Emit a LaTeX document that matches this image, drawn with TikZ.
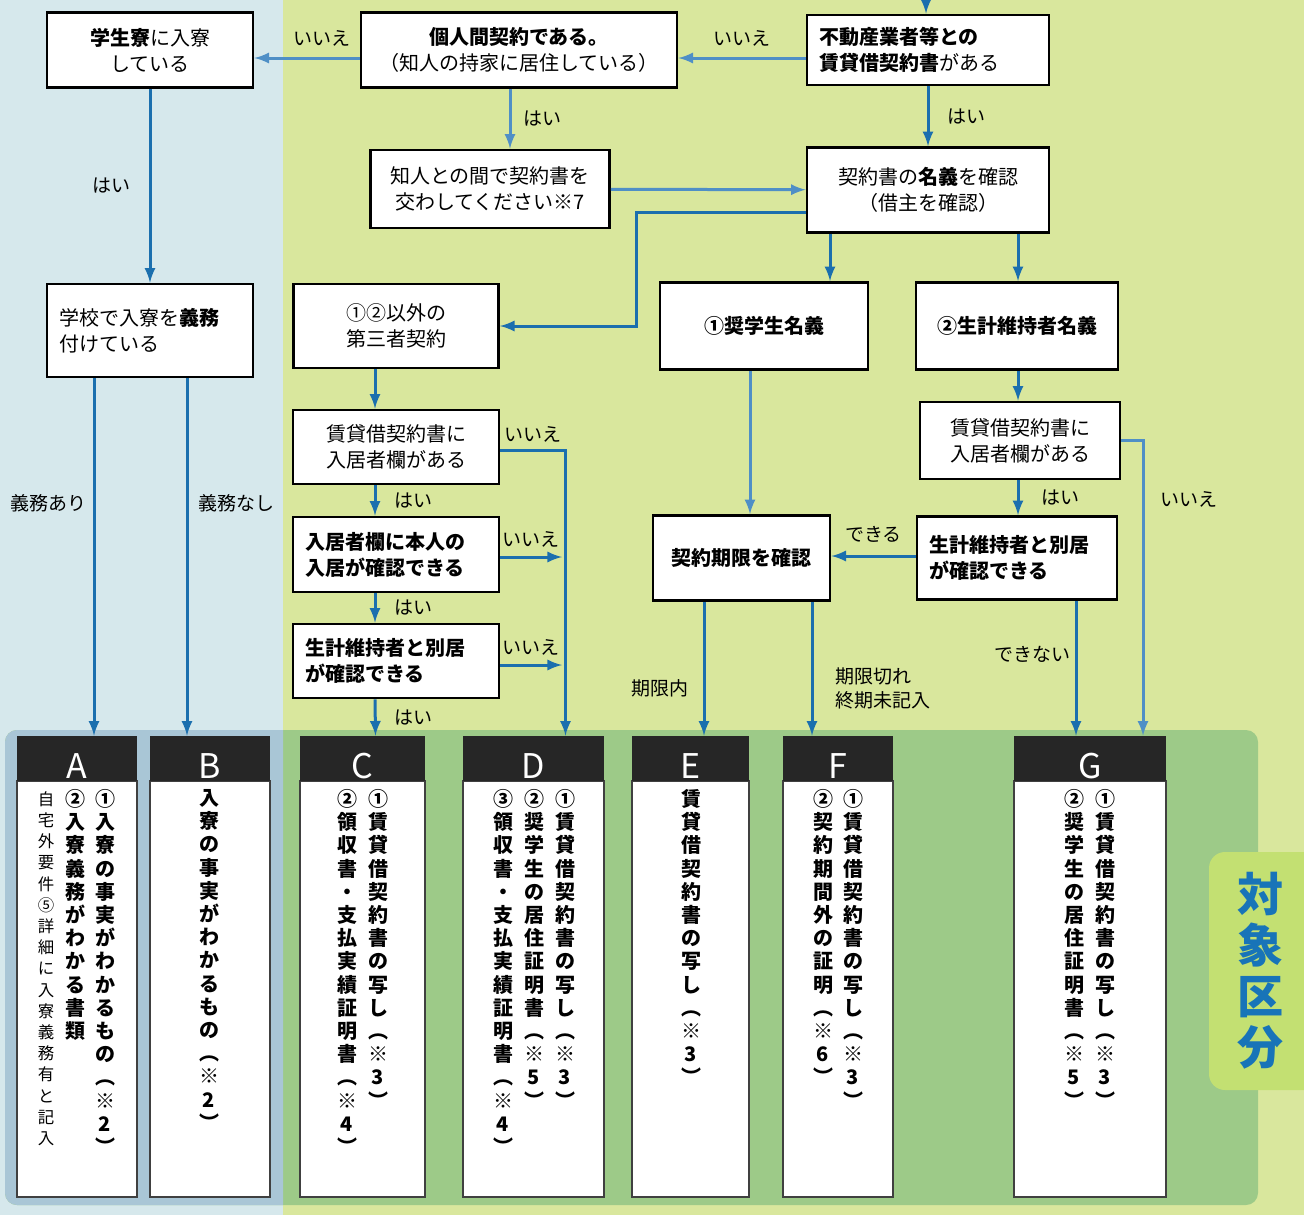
\documentclass[tikz,border=0pt]{standalone}
\usepackage{fontspec}
\setmainfont{Noto Sans CJK JP}

\definecolor{bgblue}{HTML}{D6E8EC}
\definecolor{bggreen}{HTML}{D9E79D}
\definecolor{panelblue}{HTML}{A9C6D6}
\definecolor{panelgreen}{HTML}{9DCA88}
\definecolor{tabgreen}{HTML}{C3E072}
\definecolor{tabblue}{HTML}{1874B8}
\definecolor{flowblue}{HTML}{1B6FAE}
\definecolor{flowlight}{HTML}{4F8FC6}
\definecolor{headblack}{HTML}{262626}

\newcommand\jpbox{\fontsize{10}{13}\selectfont}
\newcommand\jplabel{\fontsize{9.5}{12}\selectfont}
\newcommand\jphead{\fontsize{17}{17}\selectfont}
\newcommand\jptate{\fontsize{10}{12}\selectfont\bfseries}
\newcommand\jptatesmall{\fontsize{8.2}{10}\selectfont}
\newcommand\jptab{\fontsize{23}{25}\selectfont\bfseries}

% characters stacked one under the other
\def\tatestop{TATESTOP}
\def\tateloop#1{\ifx#1\tatestop\else\hbox to 1em{\hss#1\hss}\expandafter\tateloop\fi}
\newcommand\tate[2][11.6pt]{\vtop{\baselineskip=#1\relax\lineskiplimit=-20pt\tateloop#2\tatestop}}

\begin{document}
\begin{tikzpicture}[x=0.5pt, y=-0.5pt, >=latex]
    \tikzstyle{flow box} = [rectangle, draw=black, fill=white, line width=1.4pt, inner sep=4pt, font=\jpbox, align=center]
    \tikzstyle{flow box left} = [flow box, align=left, inner xsep=6pt]
    \tikzstyle{flow edge} = [draw=flowblue, line width=1.5pt, ->]
    \tikzstyle{flow edge light} = [flow edge, draw=flowlight]
    \tikzstyle{edge label} = [font=\jplabel, inner sep=1pt]
    \tikzstyle{class head} = [rectangle, fill=headblack, text=white, font=\jphead, inner sep=0pt, text height=20.4pt, text depth=0pt]
    \tikzstyle{class body} = [rectangle, draw=black!75, line width=0.6pt, fill=white, inner sep=0pt]
    \tikzstyle{class text} = [anchor=north, inner sep=0pt, font=\jptate]
\useasboundingbox (0,0) rectangle (1304,1215);
\fill[bgblue] (0,0) rectangle (283,1215);
\fill[bggreen] (283,0) rectangle (1304,1215);
% panel of the classes
\fill[panelgreen, rounded corners=6pt] (5,730) rectangle (1258,1205);
\begin{scope}
    \clip (0,700) rectangle (283,1215);
    \fill[panelblue, rounded corners=6pt] (5,730) rectangle (1258,1205);
\end{scope}
\fill[tabgreen, rounded corners=8pt] (1209,852) rectangle (1340,1090);
\node[font=\jptab, text=tabblue, inner sep=0pt] (tabtitle) at (1260,971) {\tate[25.5pt]{対象区分}};
% questions
\node[flow box, minimum width=103pt, minimum height=37.5pt] (dorm) at (150,50) {{\bfseries 学生寮}に入寮\\している};
\node[flow box, minimum width=158pt, minimum height=37.5pt] (personal) at (519,50) {{\bfseries 個人間契約である。}\\（知人の持家に居住している）};
\node[flow box left, text width=109pt, minimum height=35pt] (realtor) at (928,50) {{\bfseries 不動産業者等との}\\{\bfseries 賃貸借契約書}がある};
\node[flow box, minimum width=119.5pt, minimum height=39pt] (friend) at (490,189) {知人との間で契約書を\\交わしてください※7};
\node[flow box, minimum width=121pt, minimum height=42.5pt] (name) at (928,190) {契約書の{\bfseries 名義}を確認\\（借主を確認）};
\node[flow box, minimum width=102.5pt, minimum height=42pt] (third) at (396,326) {①②以外の\\第三者契約};
\node[flow box, minimum width=104pt, minimum height=43.5pt, font=\jpbox\bfseries] (scholar) at (764,326) {①奨学生名義};
\node[flow box, minimum width=101pt, minimum height=43.5pt, font=\jpbox\bfseries] (supporter) at (1017,326) {②生計維持者名義};
\node[flow box left, text width=91pt, minimum height=46.5pt] (school) at (150,330.5) {学校で入寮を{\bfseries 義務}\\付けている};
\node[flow box, minimum width=103pt, minimum height=37pt] (lease3) at (396,447) {賃貸借契約書に\\入居者欄がある};
\node[flow box left, text width=91pt, minimum height=37.5pt, font=\jpbox\bfseries] (occupant) at (396,554.5) {入居者欄に本人の\\入居が確認できる};
\node[flow box left, text width=91pt, minimum height=37pt, font=\jpbox\bfseries] (separate3) at (396,661) {生計維持者と別居\\が確認できる};
\node[flow box, minimum width=88.5pt, minimum height=42.5pt, font=\jpbox\bfseries] (deadline) at (741.5,558) {契約期限を確認};
\node[flow box, minimum width=100pt, minimum height=38.5pt] (lease2) at (1020,440.5) {賃貸借契約書に\\入居者欄がある};
\node[flow box left, text width=88pt, minimum height=41.5pt, font=\jpbox\bfseries] (separate2) at (1017,558) {生計維持者と別居\\が確認できる};
% classes A to G
\foreach \c/\cx/\w in {A/77/60, B/210/60, C/362.5/62.5, D/533.5/70.5, E/690.5/58.5, F/838/55, G/1090/76} {
    \node[class body, minimum width=\w pt, minimum height=208pt] (col\c) at (\cx,989) {};
    \node[class head, minimum width=\w pt, minimum height=22.5pt] (hdr\c) at (\cx,758.5) {\c};
}
\node[class text] (tA1) at (105,789) {\tate{①入寮の事実がわかるもの︵※2︶}};
\node[class text] (tA2) at (75,789) {\tate{②入寮義務がわかる書類}};
\node[class text, font=\jptatesmall] (tA3) at (46,791) {\tate[10.6pt]{自宅外要件⑤詳細に入寮義務有と記入}};
\node[class text] (tB1) at (209,789) {\tate{入寮の事実がわかるもの︵※2︶}};
\node[class text] (tC1) at (378,789) {\tate{①賃貸借契約書の写し︵※3︶}};
\node[class text] (tC2) at (347,789) {\tate{②領収書・支払実績証明書︵※4︶}};
\node[class text] (tD1) at (565,789) {\tate{①賃貸借契約書の写し︵※3︶}};
\node[class text] (tD2) at (534,789) {\tate{②奨学生の居住証明書︵※5︶}};
\node[class text] (tD3) at (503,789) {\tate{③領収書・支払実績証明書︵※4︶}};
\node[class text] (tE1) at (691,789) {\tate{賃貸借契約書の写し︵※3︶}};
\node[class text] (tF1) at (853,789) {\tate{①賃貸借契約書の写し︵※3︶}};
\node[class text] (tF2) at (823,789) {\tate{②契約期間外の証明︵※6︶}};
\node[class text] (tG1) at (1105,789) {\tate{①賃貸借契約書の写し︵※3︶}};
\node[class text] (tG2) at (1074,789) {\tate{②奨学生の居住証明書︵※5︶}};
% connectors
\coordinate (entry) at (926,0);
\coordinate (nojoin1) at (562,557);
\coordinate (nojoin2) at (562,665);
\draw[flow edge] (entry) -- (entry |- realtor.north);
\draw[flow edge light] ([yshift=-4pt]realtor.west) -- node[edge label, above=4pt] {いいえ} ([yshift=-4pt]personal.east);
\draw[flow edge light] ([yshift=-4pt]personal.west) -- node[edge label, above=4pt, pos=0.36] {いいえ} ([yshift=-4pt]dorm.east);
\draw[flow edge light] ([xshift=-4.5pt]personal.south) -- node[edge label, right=5pt] {はい} ([xshift=10pt]friend.north);
\draw[flow edge] (realtor) -- node[edge label, right=8pt] {はい} (name);
\draw[flow edge light] (friend) -- (name);
\draw[flow edge] ([yshift=-11pt]name.west) -- ++(-169,0) |- (third.east);
\draw[flow edge] ([xshift=-49pt]name.south) -- ([xshift=33pt]scholar.north);
\draw[flow edge] ([xshift=45pt]name.south) -- ([xshift=0.5pt]supporter.north);
\draw[flow edge] (dorm) -- node[edge label, left=8pt] {はい} (school);
\draw[flow edge] ([xshift=-28pt]school.south) -- node[edge label, left=2pt, pos=0.35] {義務あり} ([xshift=8.5pt]hdrA.north);
\draw[flow edge] ([xshift=18.5pt]school.south) -- node[edge label, right=4pt, pos=0.35] {義務なし} ([xshift=-11.5pt]hdrB.north);
\draw[flow edge] ([xshift=-10.5pt]third.south) -- ([xshift=-10.5pt]lease3.north);
\draw[flow edge] ([xshift=-10.5pt]lease3.south) -- node[edge label, right=8pt] {はい} ([xshift=-10.5pt]occupant.north);
\draw[flow edge] ([xshift=-10.5pt]occupant.south) -- node[edge label, right=8pt] {はい} ([xshift=-10.5pt]separate3.north);
\draw[flow edge] ([xshift=-10.5pt]separate3.south) -- node[edge label, right=8pt] {はい} ([xshift=6.5pt]hdrC.north);
\draw[flow edge] ([yshift=-1.5pt]lease3.east) -| node[edge label, pos=0.25, above=2pt] {いいえ} ([xshift=16pt]hdrD.north);
\draw[flow edge] (occupant.east |- nojoin1) -- node[edge label, above=3pt] {いいえ} (nojoin1);
\draw[flow edge] (separate3.east |- nojoin2) -- node[edge label, above=3pt] {いいえ} (nojoin2);
\draw[flow edge light] ([xshift=-7pt]scholar.south) -- ([xshift=4.25pt]deadline.north);
\draw[flow edge] ([xshift=-18.75pt]deadline.south) -- node[edge label, left=6pt, pos=0.65] {期限内} ([xshift=6.75pt]hdrE.north);
\draw[flow edge] ([xshift=35.25pt]deadline.south) -- node[edge label, right=10pt, pos=0.65, align=left] {期限切れ\\終期未記入} ([xshift=-13pt]hdrF.north);
\draw[flow edge] ([xshift=0.5pt]supporter.south) -- ([xshift=-1pt]lease2.north);
\draw[flow edge] ([xshift=-1pt]lease2.south) -- node[edge label, right=10pt] {はい} ([xshift=0.5pt]separate2.north);
\draw[flow edge] ([yshift=1pt]separate2.west) -- node[edge label, above=5pt] {できる} ([yshift=1pt]deadline.east);
\draw[flow edge] ([xshift=29.5pt]separate2.south) -- node[edge label, left=1pt, pos=0.4] {できない} ([xshift=-7pt]hdrG.north);
\draw[flow edge light] (lease2.east) -| node[edge label, pos=0.6, right=7pt] {いいえ} ([xshift=26.5pt]hdrG.north);
\end{tikzpicture}
\end{document}
